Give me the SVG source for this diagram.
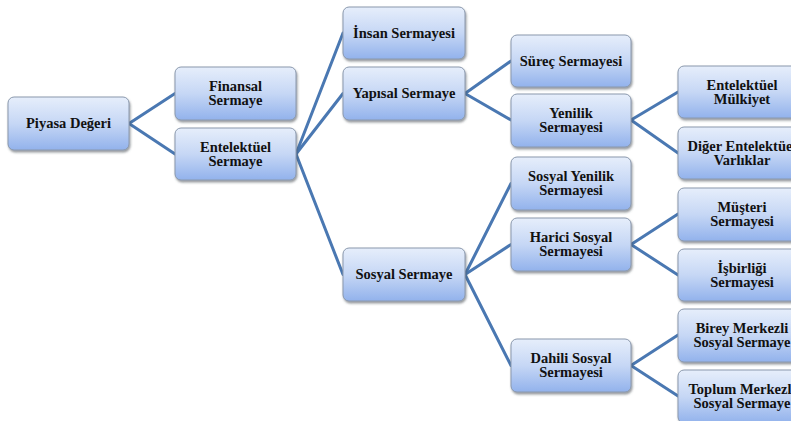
<svg xmlns="http://www.w3.org/2000/svg" width="791" height="421" viewBox="0 0 791 421">
  <defs>
    <linearGradient id="boxFill" x1="0" y1="0" x2="0" y2="1">
      <stop offset="0" stop-color="#e6eefb"/>
      <stop offset="0.5" stop-color="#c6d7f5"/>
      <stop offset="1" stop-color="#92b2ec"/>
    </linearGradient>
    <filter id="shadow" x="-10%" y="-10%" width="130%" height="140%">
      <feDropShadow dx="1" dy="2" stdDeviation="1.2" flood-color="#404850" flood-opacity="0.55"/>
    </filter>
  </defs>
  <style>
    .box { fill: url(#boxFill); stroke: #8a98ad; stroke-width: 1; filter: url(#shadow); }
    .lbl { font-family: "Liberation Serif", "Times New Roman", serif; font-weight: bold; font-size: 14.5px; fill: #111; text-anchor: middle; }
    .conn line { stroke: #4a78b2; stroke-width: 3; stroke-linecap: round; }
  </style>
  <rect width="791" height="421" fill="#ffffff"/>

  <!-- connectors: parent right-middle to child left-middle -->
  <g id="connectors" class="conn">
    <line x1="129" y1="123.5" x2="175" y2="93.5"/>
    <line x1="129" y1="123.5" x2="175" y2="154"/>
    <line x1="296" y1="154" x2="343" y2="33"/>
    <line x1="296" y1="154" x2="343" y2="93.5"/>
    <line x1="296" y1="154" x2="343" y2="274.5"/>
    <line x1="465" y1="93.5" x2="511" y2="61"/>
    <line x1="465" y1="93.5" x2="511" y2="120"/>
    <line x1="631" y1="120" x2="678" y2="92"/>
    <line x1="631" y1="120" x2="678" y2="153"/>
    <line x1="465" y1="274.5" x2="511" y2="183.5"/>
    <line x1="465" y1="274.5" x2="511" y2="244.5"/>
    <line x1="465" y1="274.5" x2="511" y2="365.5"/>
    <line x1="631" y1="244.5" x2="678" y2="214"/>
    <line x1="631" y1="244.5" x2="678" y2="275"/>
    <line x1="631" y1="365.5" x2="678" y2="335"/>
    <line x1="631" y1="365.5" x2="678" y2="396"/>
  </g>

  <!-- level 0 -->
  <g id="piyasa-degeri">
    <rect class="box" x="8" y="97" width="121" height="53" rx="6"/>
    <text class="lbl" x="68.5" y="128">Piyasa Değeri</text>
  </g>

  <!-- level 1 -->
  <g id="finansal-sermaye">
    <rect class="box" x="175" y="67" width="121" height="53" rx="6"/>
    <text class="lbl" x="235.5" y="91">Finansal</text>
    <text class="lbl" x="235.5" y="105">Sermaye</text>
  </g>
  <g id="entelektuel-sermaye">
    <rect class="box" x="175" y="128" width="121" height="52" rx="6"/>
    <text class="lbl" x="235.5" y="151.5">Entelektüel</text>
    <text class="lbl" x="235.5" y="165.5">Sermaye</text>
  </g>

  <!-- level 2 -->
  <g id="insan-sermayesi">
    <rect class="box" x="343" y="7" width="122" height="52" rx="6"/>
    <text class="lbl" x="404" y="37.5">İnsan Sermayesi</text>
  </g>
  <g id="yapisal-sermaye">
    <rect class="box" x="343" y="67" width="122" height="53" rx="6"/>
    <text class="lbl" x="404" y="98">Yapısal Sermaye</text>
  </g>
  <g id="sosyal-sermaye">
    <rect class="box" x="343" y="248" width="122" height="53" rx="6"/>
    <text class="lbl" x="404" y="279">Sosyal Sermaye</text>
  </g>

  <!-- level 3 -->
  <g id="surec-sermayesi">
    <rect class="box" x="511" y="35" width="120" height="52" rx="6"/>
    <text class="lbl" x="571" y="65.5">Süreç Sermayesi</text>
  </g>
  <g id="yenilik-sermayesi">
    <rect class="box" x="511" y="94" width="120" height="53" rx="6"/>
    <text class="lbl" x="571" y="117.5">Yenilik</text>
    <text class="lbl" x="571" y="131.5">Sermayesi</text>
  </g>
  <g id="sosyal-yenilik-sermayesi">
    <rect class="box" x="511" y="157" width="120" height="53" rx="6"/>
    <text class="lbl" x="571" y="181">Sosyal Yenilik</text>
    <text class="lbl" x="571" y="195">Sermayesi</text>
  </g>
  <g id="harici-sosyal-sermayesi">
    <rect class="box" x="511" y="218" width="120" height="53" rx="6"/>
    <text class="lbl" x="571" y="242">Harici Sosyal</text>
    <text class="lbl" x="571" y="256">Sermayesi</text>
  </g>
  <g id="dahili-sosyal-sermayesi">
    <rect class="box" x="511" y="339" width="120" height="53" rx="6"/>
    <text class="lbl" x="571" y="363">Dahili Sosyal</text>
    <text class="lbl" x="571" y="377">Sermayesi</text>
  </g>

  <!-- level 4 (boxes run past the right edge) -->
  <g id="entelektuel-mulkiyet">
    <rect class="box" x="678" y="66" width="136" height="52" rx="6"/>
    <text class="lbl" x="742" y="89.5">Entelektüel</text>
    <text class="lbl" x="742" y="103.5">Mülkiyet</text>
  </g>
  <g id="diger-entelektuel-varliklar">
    <rect class="box" x="678" y="127" width="136" height="52" rx="6"/>
    <text class="lbl" x="742" y="150.5">Diğer Entelektüel</text>
    <text class="lbl" x="742" y="164.5">Varlıklar</text>
  </g>
  <g id="musteri-sermayesi">
    <rect class="box" x="678" y="188" width="136" height="53" rx="6"/>
    <text class="lbl" x="742" y="211.5">Müşteri</text>
    <text class="lbl" x="742" y="225.5">Sermayesi</text>
  </g>
  <g id="isbirligi-sermayesi">
    <rect class="box" x="678" y="249" width="136" height="52" rx="6"/>
    <text class="lbl" x="742" y="272.5">İşbirliği</text>
    <text class="lbl" x="742" y="286.5">Sermayesi</text>
  </g>
  <g id="birey-merkezli-sosyal-sermaye">
    <rect class="box" x="678" y="309" width="136" height="53" rx="6"/>
    <text class="lbl" x="742" y="332.5">Birey Merkezli</text>
    <text class="lbl" x="742" y="346.5">Sosyal Sermaye</text>
  </g>
  <g id="toplum-merkezli-sosyal-sermaye">
    <rect class="box" x="678" y="370" width="136" height="53" rx="6"/>
    <text class="lbl" x="742" y="393.5">Toplum Merkezli</text>
    <text class="lbl" x="742" y="407.5">Sosyal Sermaye</text>
  </g>
</svg>
